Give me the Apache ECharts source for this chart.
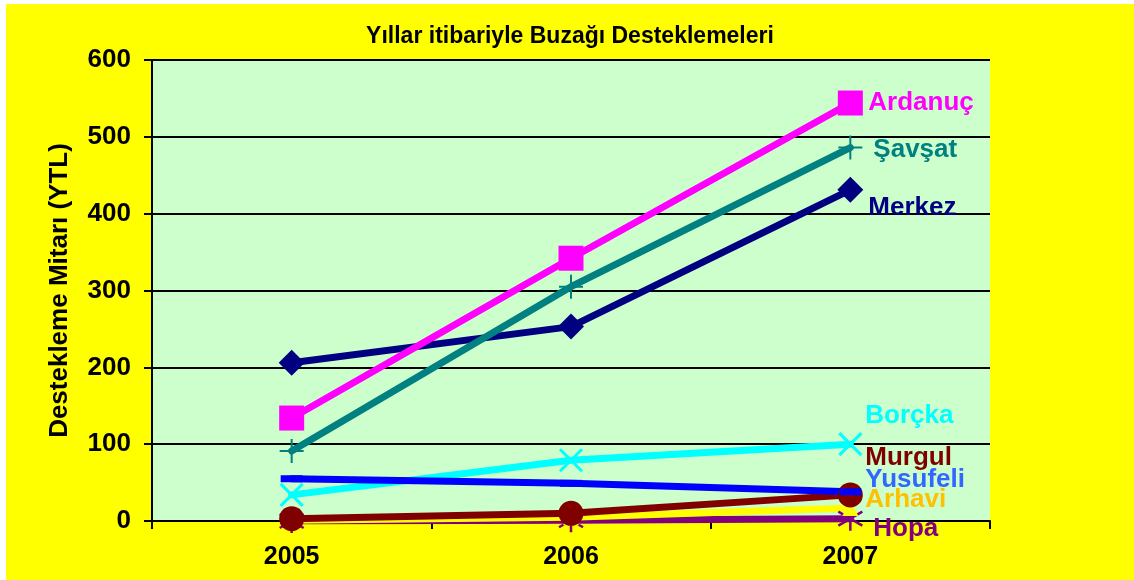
<!DOCTYPE html>
<html>
<head>
<meta charset="utf-8">
<script src="https://cdn.jsdelivr.net/npm/echarts@6/dist/echarts.min.js"></script>
<style>
  body { margin: 0; background: #fff; }
  #chart { position: absolute; left: 6px; top: 4px; width: 1128px; height: 576px; }
</style>
</head>
<body>
<div id="chart"></div>
<script>
// veriler
const years = ['2005', '2006', '2007'];
const merkez = [206, 253, 431];
const ardanuc = [134, 342, 544];
const savsat = [91, 305, 486];
const borcka = [34, 79, 100];
const hopa = [0, 1, 3];
const arhavi = [1, 5, 17];
const murgul = [3, 10, 34];
const yusufeli = [55, 49, 38];

const FONT = '"Liberation Sans", Arial, sans-serif';

// cizgi + isaret
function seri(name, data, color, symbol, size, labelColor, offset, stroke) {
  return {
    name: name,
    type: 'line',
    data: data,
    symbol: symbol,
    symbolSize: size,
    showAllSymbol: true,
    lineStyle: { color: color, width: 7, cap: 'round' },
    itemStyle: stroke
      ? { color: 'transparent', borderColor: color, borderWidth: stroke }
      : { color: color },
    endLabel: {
      show: true,
      formatter: name,
      distance: 0,
      offset: offset,
      color: labelColor || color,
      fontFamily: FONT,
      fontWeight: 'bold',
      fontSize: 26
    },
    emphasis: { disabled: true },
    animation: false
  };
}

const plus = 'path://M0,-12 L0,12 M-12,0 L12,0';
const cross = 'path://M-10,-10 L10,10 M-10,10 L10,-10';
const star = 'path://M0,-12 L0,12 M-10,-7 L10,7 M-10,7 L10,-7';

const chart = echarts.init(document.getElementById('chart'));
chart.setOption({
  backgroundColor: '#ffff00',
  title: {
    text: 'Yıllar itibariyle Buzağı Desteklemeleri',
    left: 'center',
    top: 16,
    textStyle: { fontFamily: FONT, fontWeight: 'bold', fontSize: 23, color: '#000' }
  },
  grid: { left: 146, right: 144, top: 56, bottom: 59, show: true, backgroundColor: '#ccffcc', borderWidth: 0 },
  xAxis: {
    type: 'category',
    data: years,
    boundaryGap: true,
    axisLine: { lineStyle: { color: '#000', width: 2 } },
    axisTick: { show: true, length: 8, lineStyle: { color: '#000', width: 2 } },
    axisLabel: { margin: 24, color: '#000', fontFamily: FONT, fontWeight: 'bold', fontSize: 25 }
  },
  yAxis: {
    type: 'value',
    min: 0,
    max: 600,
    interval: 100,
    name: 'Destekleme Mitarı (YTL)',
    nameLocation: 'middle',
    nameGap: 79,
    nameTextStyle: { color: '#000', fontFamily: FONT, fontWeight: 'bold', fontSize: 26 },
    axisLine: { show: true, lineStyle: { color: '#000', width: 2 } },
    axisTick: { show: true, length: 8, lineStyle: { color: '#000', width: 2 } },
    splitLine: { lineStyle: { color: '#000', width: 2 } },
    axisLabel: { margin: 21, color: '#000', fontFamily: FONT, fontWeight: 'bold', fontSize: 26 }
  },
  series: [
    seri('Merkez', merkez, '#000080', 'diamond', 26, null, [18, 18]),
    seri('Ardanuç', ardanuc, '#ff00ff', 'rect', 25, null, [18, 0]),
    seri('Şavşat', savsat, '#008080', plus, 24, null, [23, 2], 2),
    seri('Borçka', borcka, '#00ffff', cross, 22, null, [15, -28], 3),
    seri('Hopa', hopa, '#800080', star, 24, null, [23, 10], 2.5),
    seri('Arhavi', arhavi, '#ffff00', 'triangle', 16, '#ffc000', [15, -8]),
    seri('Murgul', murgul, '#800000', 'circle', 25, null, [15, -37]),
    seri('Yusufeli', yusufeli, '#0000ff', 'rect', [22, 7], '#3366ff', [15, -12])
  ]
});
</script>
</body>
</html>
